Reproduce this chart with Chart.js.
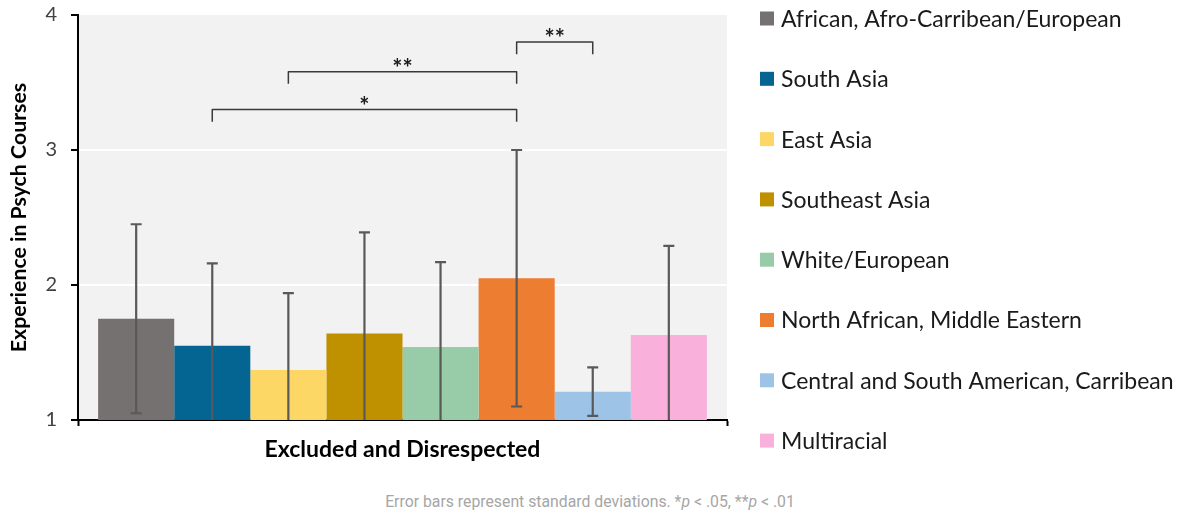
<!DOCTYPE html>
<html>
<head>
<meta charset="utf-8">
<script src="https://cdn.jsdelivr.net/npm/chart.js@4.4.1/dist/chart.umd.min.js"></script>
<style>
  html, body { margin: 0; padding: 0; background: #fff; }
  #wrap { position: relative; width: 1190px; height: 515px; }
  #note {
    position: absolute; left: -5px; top: 492px; width: 1190px;
    text-align: center; font-family: Roboto, sans-serif; font-size: 15.8px; color: #a6a6a6;
  }
</style>
</head>
<body>
<div id="wrap">
  <canvas id="chart" width="1190" height="480" style="width:1190px;height:480px"></canvas>
  <div id="note">Error bars represent standard deviations. *<i>p</i> &lt; .05, **<i>p</i> &lt; .01</div>
</div>
<script>
// one category, eight groups
const categories = ['Excluded and Disrespected'];
const groups = [
  'African, Afro-Carribean/European',
  'South Asia',
  'East Asia',
  'Southeast Asia',
  'White/European',
  'North African, Middle Eastern',
  'Central and South American, Carribean',
  'Multiracial'
];
const groupColors = ['#767171', '#056592', '#fdd766', '#bf9000', '#98cba8', '#ed7d31', '#9dc3e6', '#f9b1dc'];
const means = [1.75, 1.55, 1.37, 1.64, 1.54, 2.05, 1.21, 1.63];
const sds   = [0.70, 0.61, 0.57, 0.75, 0.63, 0.95, 0.18, 0.66];
const yTicks = [1, 2, 3, 4];

// significance brackets: group indices, bracket level (axis units), label
const brackets = [
  { from: 1, to: 5, level: 3.30, label: '*' },
  { from: 2, to: 5, level: 3.58, label: '**' },
  { from: 5, to: 6, level: 3.80, label: '**' }
];
const bracketDrop = 0.09;

const FONT = 'Lato, "Open Sans", sans-serif';

// grey panel behind the plot
const plotBackground = {
  id: 'plotBackground',
  beforeDraw(chart) {
    const { ctx, chartArea: a } = chart;
    ctx.save();
    ctx.fillStyle = '#f2f2f2';
    ctx.fillRect(a.left, a.top, a.right - a.left, a.bottom - a.top);
    ctx.restore();
  }
};

// +/- 1 SD whiskers, clipped to the plot
const errorBars = {
  id: 'errorBars',
  afterDatasetsDraw(chart) {
    const { ctx, chartArea: a, scales: { y } } = chart;
    ctx.save();
    ctx.beginPath();
    ctx.rect(a.left, a.top, a.right - a.left, a.bottom - a.top);
    ctx.clip();
    ctx.strokeStyle = '#595959';
    ctx.lineWidth = 2.2;
    chart.data.datasets.forEach((ds, i) => {
      const bar = chart.getDatasetMeta(i).data[0];
      const hi = y.getPixelForValue(means[i] + sds[i]);
      const lo = y.getPixelForValue(means[i] - sds[i]);
      const x = bar.x;
      ctx.beginPath();
      ctx.moveTo(x, hi); ctx.lineTo(x, lo);
      ctx.moveTo(x - 5.5, hi); ctx.lineTo(x + 5.5, hi);
      ctx.moveTo(x - 5.5, lo); ctx.lineTo(x + 5.5, lo);
      ctx.stroke();
    });
    ctx.restore();
  }
};

const sigBrackets = {
  id: 'sigBrackets',
  afterDatasetsDraw(chart) {
    const { ctx, scales: { y } } = chart;
    ctx.save();
    ctx.strokeStyle = '#3a3a3a';
    ctx.lineWidth = 1.5;
    ctx.lineJoin = 'round';
    ctx.fillStyle = '#1a1a1a';
    ctx.font = 'bold 24px ' + FONT;
    ctx.textAlign = 'center';
    ctx.textBaseline = 'alphabetic';
    brackets.forEach(b => {
      const x1 = chart.getDatasetMeta(b.from).data[0].x;
      const x2 = chart.getDatasetMeta(b.to).data[0].x;
      const yTop = y.getPixelForValue(b.level);
      const yEnd = y.getPixelForValue(b.level - bracketDrop);
      ctx.beginPath();
      ctx.moveTo(x1, yEnd);
      ctx.lineTo(x1, yTop);
      ctx.lineTo(x2, yTop);
      ctx.lineTo(x2, yEnd);
      ctx.stroke();
      ctx.fillText(b.label, (x1 + x2) / 2, yTop + 5);
    });
    ctx.restore();
  }
};

// legend column on the right
const sideLegend = {
  id: 'sideLegend',
  afterDraw(chart) {
    const { ctx } = chart;
    ctx.save();
    ctx.font = '23px ' + FONT;
    ctx.textBaseline = 'middle';
    ctx.textAlign = 'left';
    chart.data.datasets.forEach((ds, i) => {
      const cy = 18.5 + i * 60.3;
      ctx.fillStyle = ds.backgroundColor;
      ctx.fillRect(760, cy - 7, 14, 14);
      ctx.fillStyle = '#1a1a1a';
      ctx.fillText(ds.label, 781, cy + 1);
    });
    ctx.restore();
  }
};

const datasets = groups.map((name, i) => ({
  label: name,
  data: [means[i]],
  backgroundColor: groupColors[i],
  borderWidth: 0
}));

new Chart(document.getElementById('chart'), {
  type: 'bar',
  data: { labels: categories, datasets: datasets },
  options: {
    responsive: false,
    animation: false,
    events: [],
    layout: { padding: { left: 0, top: 15, right: 463, bottom: 0 } },
    datasets: { bar: { categoryPercentage: 0.938, barPercentage: 1 } },
    plugins: { legend: { display: false }, tooltip: { enabled: false } },
    scales: {
      x: {
        z: 1,
        offset: true,
        grid: { offset: true, drawOnChartArea: false, tickColor: '#000', tickLength: 6, tickWidth: 2 },
        border: { color: '#000', width: 2 },
        ticks: { color: '#000', font: { family: FONT, weight: 'bold', size: 23 }, padding: 10 },
        afterFit(scale) { scale.height = 60; }
      },
      y: {
        min: 1,
        max: 4,
        afterBuildTicks(scale) { scale.ticks = yTicks.map(v => ({ value: v })); },
        ticks: { color: '#404040', font: { family: FONT, size: 20 }, padding: 14 },
        grid: {
          color: c => (c.tick && c.tick.value > 1 && c.tick.value < 4) ? '#ffffff' : 'rgba(0,0,0,0)',
          lineWidth: 2,
          tickColor: '#000',
          tickLength: 7,
          tickWidth: 2
        },
        border: { color: '#000', width: 2 },
        title: {
          display: true,
          text: 'Experience in Psych Courses',
          color: '#000',
          font: { family: FONT, weight: 'bold', size: 21.3 },
          padding: { top: 6, bottom: 0 }
        },
        afterFit(scale) {
          scale.width = 78;
          // let the layout padding alone decide the plot top/bottom
          scale.paddingTop = 0;
          scale.paddingBottom = 0;
        }
      }
    }
  },
  plugins: [plotBackground, errorBars, sigBrackets, sideLegend]
});
</script>
</body>
</html>
